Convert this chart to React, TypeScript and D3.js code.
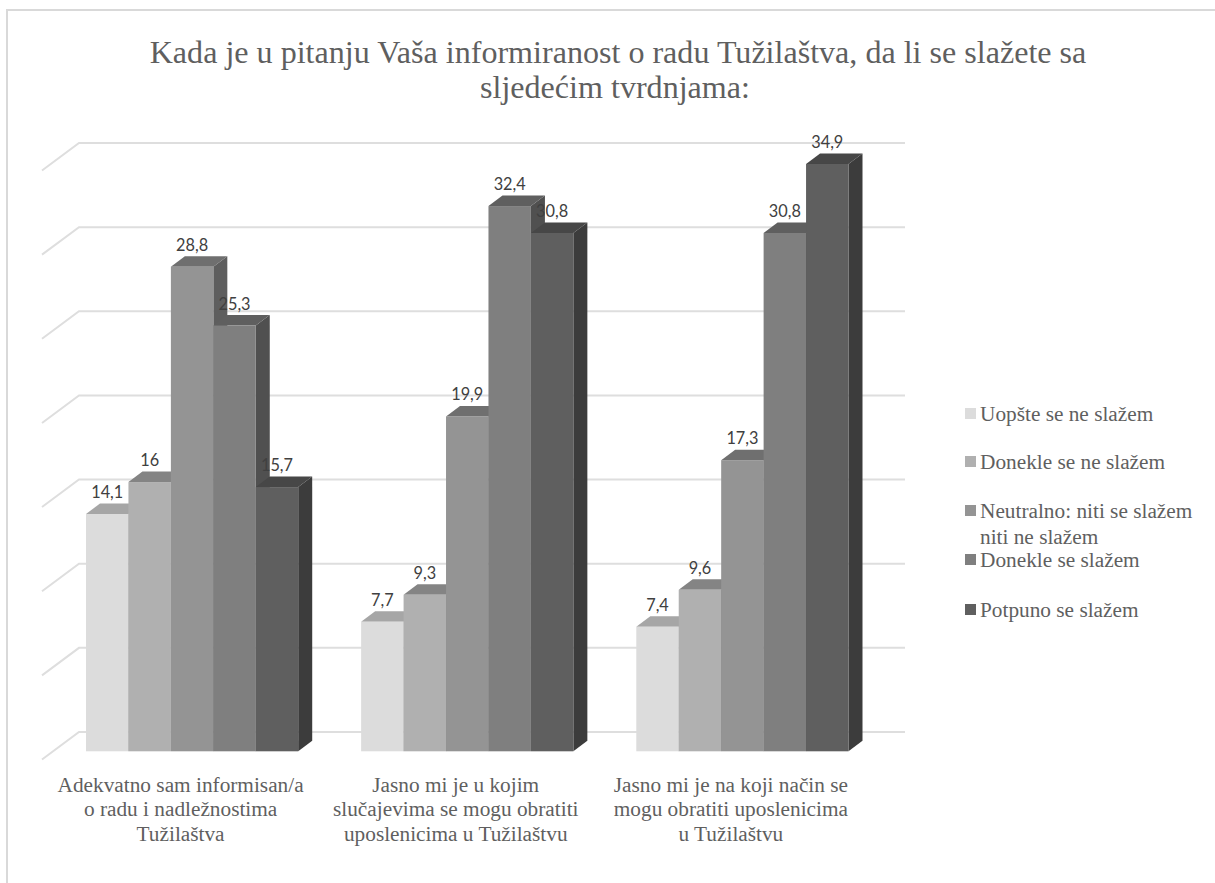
import React from "react";
import * as d3 from "d3";

const categories = [
  ["Adekvatno sam informisan/a", "o radu i nadležnostima", "Tužilaštva"],
  ["Jasno mi je u kojim", "slučajevima se mogu obratiti", "uposlenicima u Tužilaštvu"],
  ["Jasno mi je na koji način se", "mogu obratiti uposlenicima", "u Tužilaštvu"],
];
const seriesNames = [
  "Uopšte se ne slažem",
  "Donekle se ne slažem",
  "Neutralno: niti se slažem niti ne slažem",
  "Donekle se slažem",
  "Potpuno se slažem",
];
const uopste = [14.1, 7.7, 7.4];
const donekleNe = [16, 9.3, 9.6];
const neutralno = [28.8, 19.9, 17.3];
const donekleDa = [25.3, 32.4, 30.8];
const potpuno = [15.7, 30.8, 34.9];
const seriesValues = [uopste, donekleNe, neutralno, donekleDa, potpuno];
const gridTicks = [0, 5, 10, 15, 20, 25, 30, 35];

const frontColors = ["#dcdcdc", "#b0b0b0", "#949494", "#7f7f7f", "#5f5f5f"];
const topColors = ["#a6a6a6", "#848484", "#6f6f6f", "#5f5f5f", "#474747"];
const sideColors = ["#8c8c8c", "#707070", "#5e5e5e", "#505050", "#3c3c3c"];

const serif = "'Liberation Serif', serif";
const textColor = "#5f5f5f";

// depth of the fake 3d look
const barDx = 14;
const barDy = 10.5;
const wallDx = 37;
const wallDy = 27.5;
const backDy = 19.3;

const legendRows = [
  { y: 421, lines: [seriesNames[0]] },
  { y: 469, lines: [seriesNames[1]] },
  { y: 518, lines: ["Neutralno: niti se slažem", "niti ne slažem"] },
  { y: 567, lines: [seriesNames[3]] },
  { y: 617, lines: [seriesNames[4]] },
];

export default function App() {
  const y = d3.scaleLinear().domain([0, 35]).range([751.3, 162.3]);
  const x0 = d3.scaleBand<number>().domain([0, 1, 2]).range([86, 848.5]).paddingInner(0.2287);
  const x1 = d3.scaleBand<number>().domain([0, 1, 2, 3, 4]).range([0, x0.bandwidth()]);
  const fmt = (v: number) => String(v).replace(".", ",");

  return (
    <svg width={1215} height={883} style={{ position: "absolute", left: 0, top: 0 }}>
      <rect width={1215} height={883} fill="#fff" />
      <path d="M7,883V10H1215" fill="none" stroke="#d9d9d9" strokeWidth={2} />

      <g fontFamily={serif} fontSize={32.1} fill={textColor} textAnchor="middle">
        <text x={618} y={63}>Kada je u pitanju Vaša informiranost o radu Tužilaštva, da li se slažete sa</text>
        <text x={615} y={98}>sljedećim tvrdnjama:</text>
      </g>

      <g fill="none" stroke="#dedede" strokeWidth={2}>
        {gridTicks.map((t) => {
          const gy = y(t) - backDy;
          return <path key={t} d={`M${79 - wallDx},${gy + wallDy}L79,${gy}H905`} />;
        })}
      </g>

      {categories.map((_, c) =>
        seriesValues.map((vals, s) => {
          const left = x0(c)! + x1(s)!;
          const right = left + x1.bandwidth();
          const top = y(vals[c]);
          const bottom = y(0);
          return (
            <g key={`${c}-${s}`}>
              <path
                d={`M${right},${top}l${barDx},${-barDy}V${bottom - barDy}l${-barDx},${barDy}Z`}
                fill={sideColors[s]}
              />
              <path
                d={`M${left},${top}l${barDx},${-barDy}H${right + barDx}l${-barDx},${barDy}Z`}
                fill={topColors[s]}
              />
              <rect x={left} y={top} width={x1.bandwidth()} height={bottom - top} fill={frontColors[s]} />
            </g>
          );
        })
      )}

      <g fontFamily="Lato, sans-serif" fontSize={16.3} fill="#404040" textAnchor="middle">
        {categories.map((_, c) =>
          seriesValues.map((vals, s) => (
            <text key={`${c}-${s}`} x={x0(c)! + x1(s)! + x1.bandwidth() / 2} y={y(vals[c]) - 16}>
              {fmt(vals[c])}
            </text>
          ))
        )}
      </g>

      <g fontFamily={serif} fontSize={21.3} fill={textColor} textAnchor="middle">
        {categories.map((lines, c) => (
          <text key={c}>
            {lines.map((line, i) => (
              <tspan key={i} x={x0(c)! + x0.bandwidth() / 2 - 11.5} y={792 + i * 24.3}>
                {line}
              </tspan>
            ))}
          </text>
        ))}
      </g>

      <g fontFamily={serif} fontSize={21.3} fill={textColor}>
        {legendRows.map((row, i) => (
          <g key={i}>
            <rect x={965} y={row.y - 13} width={11} height={11} fill={frontColors[i]} />
            {row.lines.map((line, k) => (
              <text key={k} x={980} y={row.y + k * 26}>
                {line}
              </text>
            ))}
          </g>
        ))}
      </g>
    </svg>
  );
}
